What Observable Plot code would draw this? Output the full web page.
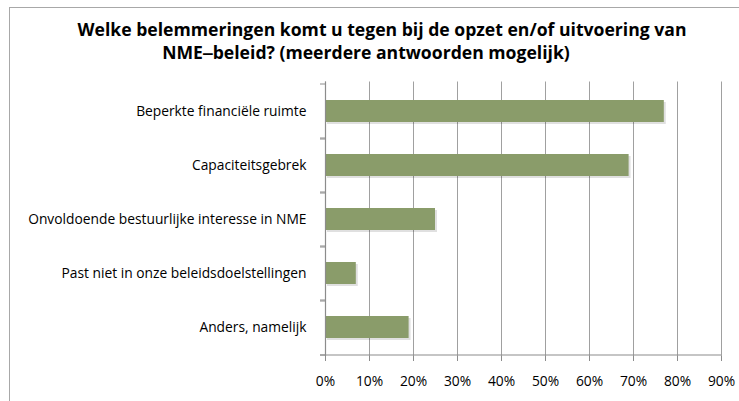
<!DOCTYPE html>
<html>
<head>
<meta charset="utf-8">
<script src="https://cdn.jsdelivr.net/npm/d3@7"></script>
<script src="https://cdn.jsdelivr.net/npm/@observablehq/plot@0.6"></script>
<style>
  html, body { margin: 0; padding: 0; background: #fff; }
  #wrap { position: relative; width: 739px; height: 401px; overflow: hidden; font-family: "Open Sans", sans-serif; }
  #frame { position: absolute; left: 9px; top: 7px; width: 760px; height: 420px; border-left: 1.5px solid #a8a8a8; border-top: 1.5px solid #a8a8a8; }
  .t { position: absolute; font-weight: bold; font-size: 17.6px; line-height: 22px; color: #000; white-space: nowrap; transform: translateX(-50%); }
  #chart { position: absolute; left: 0; top: 78px; }
</style>
</head>
<body>
<div id="wrap">
  <div id="frame"></div>
  <div class="t" id="t1" style="left:382px; top:18px;">Welke belemmeringen komt u tegen bij de opzet en/of uitvoering van</div>
  <div class="t" id="t2" style="left:366px; top:41px;">NME‒beleid? (meerdere antwoorden mogelijk)</div>
  <div id="chart"></div>
</div>
<script>
const categories = [
  "Beperkte financiële ruimte",
  "Capaciteitsgebrek",
  "Onvoldoende bestuurlijke interesse in NME",
  "Past niet in onze beleidsdoelstellingen",
  "Anders, namelijk"
];
const values = [0.77, 0.69, 0.25, 0.07, 0.19];
const xTicks = [0, 0.1, 0.2, 0.3, 0.4, 0.5, 0.6, 0.7, 0.8, 0.9];

const data = categories.map((c, i) => ({category: c, value: values[i]}));
const step = 55;
const barColor = "#8a9c6a";

const chart = Plot.plot({
  width: 739,
  height: 323,
  marginTop: 3.5,
  marginBottom: 45,
  marginLeft: 325,
  marginRight: 18,
  style: {fontFamily: "'Open Sans', sans-serif", fontSize: "13.8px", color: "#000", background: "transparent"},
  x: {domain: [0, 0.9], ticks: xTicks, tickFormat: d3.format(".0%"), label: null},
  y: {domain: categories, padding: 0, label: null},
  marks: [
    Plot.gridX(xTicks, {stroke: "#a0a0a0", strokeOpacity: 1, strokeWidth: 1}),
    Plot.barX(data, {x: "value", y: "category", fill: "#000", fillOpacity: 0.12, insetTop: 16, insetBottom: 16, dx: 2, dy: 2}),
    Plot.barX(data, {x: "value", y: "category", fill: barColor, insetTop: 16, insetBottom: 16}),
    Plot.ruleX([0], {stroke: "#8c8c8c", strokeWidth: 1.2}),
    Plot.axisX(xTicks, {tickSize: 5, tickPadding: 15, stroke: "#8c8c8c", strokeOpacity: 1, fill: "#000", tickFormat: d3.format(".0%"), fontSize: 13.8, label: null}),
    Plot.ruleY([categories[categories.length - 1]], {dy: step / 2, x1: 0, x2: 0.9, stroke: "#8c8c8c", strokeWidth: 1.2, insetLeft: -5}),
    Plot.axisY({tickSize: 5, tickFormat: null, dy: -step / 2, stroke: "#8c8c8c", strokeOpacity: 1, label: null}),
    Plot.axisY({tickSize: 5, tickFormat: null, dy: step / 2, stroke: "#8c8c8c", strokeOpacity: 1, label: null}),
    Plot.axisY({tickSize: 0, tickPadding: 19, fill: "#000", fontSize: 13.8, label: null})
  ]
});
document.getElementById("chart").appendChild(chart);
</script>
</body>
</html>
